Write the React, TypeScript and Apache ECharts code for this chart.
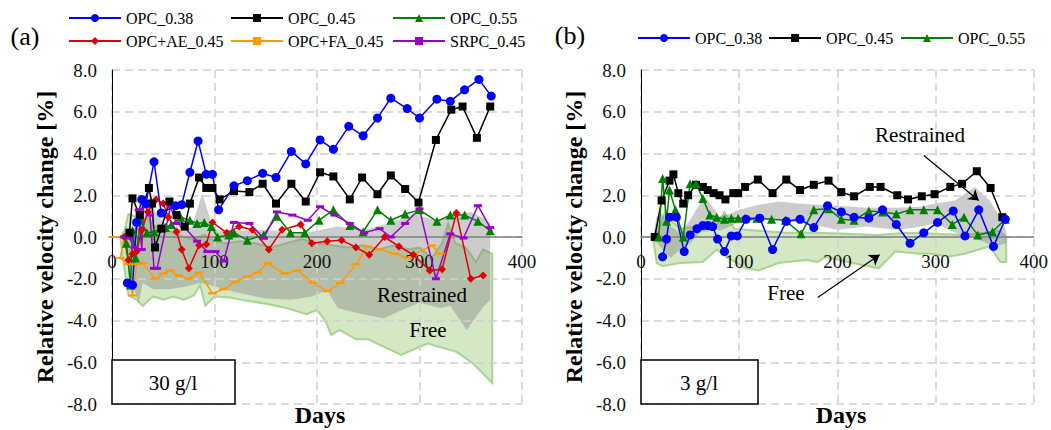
import React, { useEffect, useRef } from "react";
import * as echarts from "echarts";

const FONT = "Liberation Serif";

// ---------- Panel (a): 30 g/l  ([day, relative velocity change %]) ----------
const opc038A = [[15, -2.2], [20, -2.3], [24, 0.7], [29, 1.8], [33, 1.6], [41, 3.6], [48, 1.15], [62, 1.5], [68, 1.55], [76, 3.1], [84, 4.6], [92, 3.0], [98, 3.0], [104, 1.3], [119, 2.45], [132, 2.7], [147, 3.05], [160, 2.85], [175, 4.1], [189, 3.5], [203, 4.65], [216, 4.2], [231, 5.3], [245, 4.85], [259, 5.7], [272, 6.65], [288, 6.15], [300, 5.7], [317, 6.6], [330, 6.5], [344, 7.05], [358, 7.55], [370, 6.75]];
const opc045A = [[17, 0.2], [20, 1.85], [27, 1.05], [36, 2.35], [39, 1.6], [42, -0.5], [48, 0.4], [56, 1.7], [63, 1.05], [71, 0.5], [76, 1.6], [85, 2.85], [92, 2.35], [98, 2.35], [105, 1.8], [119, 2.2], [134, 2.15], [147, 2.55], [160, 1.6], [175, 2.55], [189, 1.7], [203, 3.1], [216, 2.9], [232, 1.8], [244, 2.85], [259, 2.05], [272, 2.95], [286, 2.3], [299, 1.65], [316, 4.65], [331, 6.1], [342, 6.25], [356, 4.75], [369, 6.25]];
const opc055A = [[14, -0.3], [18, -2.3], [20, 0.3], [23, -1.0], [28, 0.8], [34, 0.2], [41, 0.25], [52, 0.45], [58, 0.6], [67, 0.95], [76, 0.8], [83, 0.65], [90, 0.7], [97, 0.5], [103, 0.0], [114, 0.1], [119, 0.2], [132, -0.15], [148, 0.1], [161, 1.0], [174, 0.2], [188, 0.2], [202, 0.8], [216, 1.3], [232, 0.55], [245, 0.25], [259, 1.3], [272, 0.8], [286, 1.1], [300, 1.3], [317, 0.75], [330, 1.05], [344, 1.05], [357, 0.75], [369, 0.3]];
const opcAE045A = [[12, 0.0], [16, -1.1], [20, -0.8], [24, -0.7], [29, 0.33], [35, 1.2], [43, 1.8], [50, 1.6], [55, 0.95], [63, 0.25], [68, -0.6], [75, -1.5], [85, -0.4], [92, -0.35], [98, 0.7], [112, 0.2], [124, 0.5], [137, 0.35], [153, -0.6], [166, 0.35], [184, 0.6], [195, -0.3], [210, -0.2], [224, -0.15], [238, -0.5], [251, -0.85], [266, 0.0], [280, -0.45], [294, -0.85], [310, -1.6], [322, -1.55], [336, 1.15], [350, -2.0], [362, -1.85]];
const opcFA045A = [[1, 0.0], [12, 0.0], [8, -1.0], [16, -1.3], [20, -2.8], [24, -1.3], [30, -1.25], [42, -2.0], [50, -1.75], [57, -1.6], [65, -1.85], [75, -2.0], [85, -1.7], [98, -2.7], [109, -2.5], [120, -2.15], [132, -1.9], [142, -1.7], [152, -1.25], [168, -1.75], [181, -1.6], [196, -2.2], [210, -2.6], [223, -2.2], [238, -1.3], [249, -0.45], [261, -0.6], [276, -0.8], [289, -1.0], [312, -0.4], [320, -0.8]];
const srpc045A = [[12, 0.0], [17, -0.05], [22, -0.5], [26, 1.3], [29, -0.6], [31, 1.6], [37, 1.05], [41, -1.5], [44, -1.5], [57, 1.45], [63, 0.65], [70, 0.5], [83, -0.2], [93, -0.7], [101, -0.7], [109, -1.15], [119, 0.7], [134, 0.65], [148, -0.05], [161, 1.2], [176, 1.05], [191, 0.8], [203, 1.45], [217, 1.05], [232, 0.65], [246, 0.2], [261, 0.4], [272, 0.0], [286, 0.65], [300, 1.35], [316, -2.0], [330, 0.15], [343, -0.05], [357, 1.5], [369, 0.45]];

// Envelope bands, panel (a)
const freeAUpper = [[8, 0], [12, 0.3], [16, 1.1], [22, 1.0], [28, 0.8], [35, 0.9], [42, 0.5], [50, 0.4], [60, 0.2], [70, 0.0], [80, -0.1], [90, 0.1], [100, -0.2], [110, -0.3], [125, -0.2], [140, -0.3], [155, -0.5], [170, -0.3], [185, -0.1], [200, -0.3], [215, -0.4], [230, -0.5], [245, -0.4], [260, -0.6], [275, -0.4], [290, -0.6], [300, -0.5], [312, -1.0], [322, -0.3], [328, 0.65], [335, -0.3], [345, -0.5], [355, -1.2], [362, -0.6], [371, -0.8]];
const freeALower = [[8, 0], [12, -1.5], [16, -2.8], [24, -3.0], [30, -3.3], [40, -2.85], [50, -3.0], [60, -2.85], [70, -3.0], [80, -2.8], [86, -2.3], [91, -3.3], [100, -2.85], [115, -2.9], [125, -3.0], [150, -3.2], [170, -3.4], [190, -3.7], [200, -3.5], [208, -4.0], [214, -4.7], [222, -4.45], [238, -4.9], [250, -4.9], [282, -5.65], [308, -5.1], [336, -5.5], [352, -6.05], [369, -6.9], [371, -7.0]];
const restrAUpper = [[10, 0], [14, 0.5], [20, 0.3], [26, 0.6], [33, 1.2], [38, 2.2], [42, 1.2], [48, 0.8], [55, 0.6], [62, 0.5], [70, 0.3], [78, 0.5], [83, 1.3], [88, 2.1], [93, 1.3], [98, 0.5], [105, 0.3], [120, 0.3], [140, 0.35], [160, 0.3], [180, 0.15], [200, 0.3], [220, 0.5], [245, 0.33], [270, 0.65], [295, 1.1], [315, 0.8], [330, 1.0], [350, 1.2], [363, 0.9], [369, 0.65]];
const restrALower = [[10, 0], [14, -1.0], [18, -2.0], [22, -2.5], [26, -3.2], [30, -2.2], [40, -2.5], [55, -2.5], [70, -2.4], [86, -2.2], [95, -2.3], [110, -2.5], [125, -2.7], [150, -2.95], [175, -3.0], [195, -2.85], [210, -2.55], [220, -3.4], [240, -3.65], [265, -3.9], [283, -3.5], [300, -3.15], [320, -3.4], [330, -3.3], [346, -4.45], [362, -3.35], [369, -3.0]];

// ---------- Panel (b): 3 g/l ----------
const opc038B = [[22, -0.95], [26, -0.1], [29, 0.95], [36, 0.95], [44, -0.7], [50, 0.1], [57, 0.4], [63, 0.55], [68, 0.55], [73, 0.5], [78, -0.1], [85, -0.7], [92, 0.05], [98, 0.05], [107, 0.85], [121, 0.9], [134, -0.6], [148, 0.75], [162, 0.85], [176, 0.45], [190, 1.5], [204, 1.2], [217, 0.95], [232, 0.9], [246, 1.3], [260, 0.6], [274, -0.3], [288, 0.2], [302, 0.7], [318, 1.25], [330, 0.05], [344, 1.3], [359, -0.45], [371, 0.85]];
const opc045B = [[14, 0.0], [21, 1.75], [29, 2.7], [33, 3.0], [38, 2.1], [43, 1.6], [48, 2.0], [56, 2.5], [63, 2.4], [68, 2.25], [74, 2.1], [80, 2.0], [86, 1.8], [94, 2.1], [99, 2.1], [106, 2.4], [119, 2.75], [134, 2.1], [148, 2.75], [162, 2.25], [176, 2.5], [191, 2.7], [204, 2.15], [217, 1.95], [233, 2.4], [244, 2.4], [261, 2.0], [272, 1.8], [286, 1.95], [299, 2.05], [315, 2.4], [327, 2.55], [342, 3.15], [356, 2.35], [368, 0.95]];
const opc055B = [[18, 0.0], [22, 2.8], [26, 0.75], [29, 2.25], [35, 1.3], [43, 0.0], [50, 2.55], [56, 2.55], [63, 1.85], [70, 1.05], [77, 0.95], [85, 0.85], [92, 0.9], [99, 0.9], [106, 0.9], [118, 0.9], [133, 0.85], [147, 0.8], [163, 0.15], [176, 1.3], [191, 1.35], [204, 0.85], [217, 0.8], [232, 1.25], [246, 1.2], [260, 1.1], [274, 1.3], [288, 1.3], [302, 1.3], [317, 0.6], [329, 0.95], [343, 0.1], [358, 0.25], [371, 0.85]];

const freeBUpper = [[12, 0], [18, 0.3], [25, 1.3], [30, 0.8], [40, 0.4], [55, 0.5], [65, 0.3], [75, 0.4], [85, 1.2], [95, 0.4], [120, 0.3], [150, 0.2], [180, 0.2], [210, 0.15], [240, 0.1], [270, 0.2], [300, 0.15], [330, 0.1], [350, 0.2], [365, 0.3], [372, 0.0]];
const freeBLower = [[12, 0], [16, -1.25], [22, -1.4], [40, -1.25], [63, -1.2], [77, -0.6], [87, -0.95], [107, -1.5], [120, -1.6], [140, -1.25], [168, -1.1], [180, -1.2], [188, -0.95], [215, -1.25], [242, -1.5], [259, -0.7], [283, -0.8], [296, -0.8], [313, -0.95], [330, -0.8], [344, -0.6], [355, -0.45], [366, -1.2], [372, -1.2]];
const restrBUpper = [[12, 0], [16, 1.0], [20, 1.2], [25, 0.9], [30, 0.5], [40, 0.2], [50, 0.8], [60, 1.6], [65, 1.9], [72, 1.5], [80, 1.0], [90, 1.1], [100, 1.3], [120, 1.55], [140, 1.7], [160, 1.6], [180, 1.55], [200, 1.5], [230, 1.4], [260, 1.4], [285, 1.45], [300, 1.6], [320, 1.75], [340, 2.4], [355, 1.75], [365, 1.0], [372, 0.3]];
const restrBLower = [[12, 0], [20, -0.5], [30, -1.0], [40, -0.6], [50, -0.3], [60, 0.2], [70, 0.5], [80, 0.3], [100, 0.7], [120, 0.8], [140, 0.8], [160, 0.7], [180, 0.55], [200, 0.35], [230, 0.5], [260, 0.35], [280, 0.45], [300, 0.65], [320, 0.2], [345, -0.15], [360, -0.45], [372, -0.3]];

// Arrows in panel (b) (data coordinates)
const arrowRestrainedB = [[288, 3.9], [344, 1.75]];
const arrowFreeB = [[180, -2.9], [243, -0.85]];

const NAMES = ["OPC_0.38", "OPC_0.45", "OPC_0.55", "OPC+AE_0.45", "OPC+FA_0.45", "SRPC_0.45"];
const COLORS = ["#0000ff", "#000000", "#008000", "#e00000", "#ff9900", "#9900cc"];

function band(upper: number[][], lower: number[][], fill: string, stroke: string, gi: number, z: number) {
  return {
    type: "custom",
    xAxisIndex: gi,
    yAxisIndex: gi,
    silent: true,
    z,
    data: [upper[0]],
    renderItem: (_p: any, api: any) => {
      const pts = upper.concat(lower.slice().reverse()).map((p) => api.coord(p));
      return {
        type: "polygon",
        shape: { points: pts },
        style: { fill, stroke, lineWidth: stroke === "none" ? 0 : 2 },
      };
    },
  };
}

function lineS(idx: number, data: number[][], gi: number, extra: any = {}) {
  const symbols: any[] = ["circle", "rect", "triangle", "diamond", "rect", "rect"];
  const sizes: any[] = [9, 8, 9, 8, [9, 2], [8, 3]];
  return {
    name: NAMES[idx],
    type: "line",
    data,
    xAxisIndex: gi,
    yAxisIndex: gi,
    symbol: symbols[idx],
    symbolSize: sizes[idx],
    showSymbol: true,
    lineStyle: { color: COLORS[idx], width: 1.5 },
    itemStyle: { color: COLORS[idx] },
    z: 4,
    silent: true,
    ...extra,
  };
}

const dashed = { show: true, lineStyle: { color: "#d0d0d0", type: [8, 5], width: 1.5 } };

function xAxis(gi: number) {
  return {
    type: "value",
    gridIndex: gi,
    min: 0,
    max: 400,
    interval: 100,
    position: "bottom",
    offset: -167,
    z: 3,
    axisLine: { onZero: false, lineStyle: { color: "#7f7f7f", width: 1.5 } },
    axisTick: { show: false },
    axisLabel: { fontFamily: FONT, fontSize: 19, color: "#111", margin: 15 },
    splitLine: dashed,
  };
}

function yAxis(gi: number) {
  return {
    type: "value",
    gridIndex: gi,
    min: -8,
    max: 8,
    interval: 2,
    z: 3,
    axisLine: { show: true, onZero: false, lineStyle: { color: "#000", width: 1 } },
    axisTick: { show: false },
    axisLabel: { fontFamily: FONT, fontSize: 19, color: "#111", margin: 15, formatter: (v: number) => v.toFixed(1) },
    splitLine: dashed,
    name: "Relative velocity change [%]",
    nameLocation: "middle",
    nameGap: 55,
    nameTextStyle: { fontFamily: FONT, fontSize: 24, fontWeight: "bold", color: "#000" },
  };
}

function legendItem(name: string, left: number, top: number) {
  return {
    data: [name],
    left,
    top,
    padding: 0,
    itemGap: 0,
    itemWidth: 52,
    itemHeight: 10,
    selectedMode: false,
    textStyle: { fontFamily: FONT, fontSize: 16, color: "#000" },
  };
}

function txt(text: string, x: number, y: number, size: number, bold = false) {
  return {
    type: "text",
    x,
    y,
    z: 100,
    style: {
      text,
      fontFamily: FONT,
      fontSize: size,
      fontWeight: bold ? "bold" : "normal",
      fill: "#000",
      textAlign: "center",
      textVerticalAlign: "middle",
      align: "center",
      verticalAlign: "middle",
    },
  };
}

function box(x: number, y: number, w: number, h: number) {
  return { type: "rect", z: 99, shape: { x, y, width: w, height: h }, style: { fill: "#fff", stroke: "#000", lineWidth: 1.5 } };
}

export default function App() {
  const ref = useRef<HTMLDivElement>(null);
  useEffect(() => {
    if (!ref.current) return;
    const chart = echarts.init(ref.current, undefined, { renderer: "svg" });
    const greenFill = "rgba(169,209,142,0.5)";
    const greenStroke = "rgba(150,200,120,0.75)";
    const grayFill = "rgba(128,128,128,0.4)";
    const arrowLine = (pts: number[][]) => [{ coord: pts[0] }, { coord: pts[1] }];
    chart.setOption({
      animation: false,
      textStyle: { fontFamily: FONT },
      grid: [
        { left: 112, top: 70, width: 410, height: 334, containLabel: false },
        { left: 641, top: 70, width: 394, height: 334, containLabel: false },
      ],
      xAxis: [xAxis(0), xAxis(1)],
      yAxis: [yAxis(0), yAxis(1)],
      legend: [
        legendItem(NAMES[0], 68, 10),
        legendItem(NAMES[1], 230, 10),
        legendItem(NAMES[2], 392, 10),
        legendItem(NAMES[3], 68, 33),
        legendItem(NAMES[4], 230, 33),
        legendItem(NAMES[5], 392, 33),
        legendItem(NAMES[0], 637, 30),
        legendItem(NAMES[1], 768, 30),
        legendItem(NAMES[2], 900, 30),
      ],
      series: [
        band(freeAUpper, freeALower, greenFill, greenStroke, 0, 1),
        band(restrAUpper, restrALower, grayFill, "none", 0, 2),
        band(freeBUpper, freeBLower, greenFill, greenStroke, 1, 1),
        band(restrBUpper, restrBLower, grayFill, "none", 1, 2),
        lineS(4, opcFA045A, 0),
        lineS(3, opcAE045A, 0),
        lineS(2, opc055A, 0),
        lineS(5, srpc045A, 0),
        lineS(1, opc045A, 0),
        lineS(0, opc038A, 0),
        lineS(1, opc045B, 1, {
          markLine: {
            silent: true,
            symbol: ["none", "arrow"],
            symbolSize: 10,
            label: { show: false },
            lineStyle: { color: "#000", type: "solid", width: 1.2 },
            data: [arrowLine(arrowRestrainedB), arrowLine(arrowFreeB)],
          },
        }),
        lineS(2, opc055B, 1),
        lineS(0, opc038B, 1),
      ],
      graphic: [
        txt("(a)", 25, 36, 26),
        txt("(b)", 570, 35, 26),
        txt("Days", 320, 415, 24, true),
        txt("Days", 841, 415, 24, true),
        txt("Restrained", 422, 295, 21),
        txt("Free", 428, 330, 21),
        txt("Restrained", 920, 135, 21),
        txt("Free", 786, 293, 21),
        box(112, 360, 123, 44),
        txt("30 g/l", 173, 383, 21),
        box(641, 360, 117, 44),
        txt("3 g/l", 699, 383, 21),
      ],
    });
    return () => chart.dispose();
  }, []);
  return <div ref={ref} style={{ position: "absolute", left: 0, top: 0, width: 1051, height: 430 }} />;
}
